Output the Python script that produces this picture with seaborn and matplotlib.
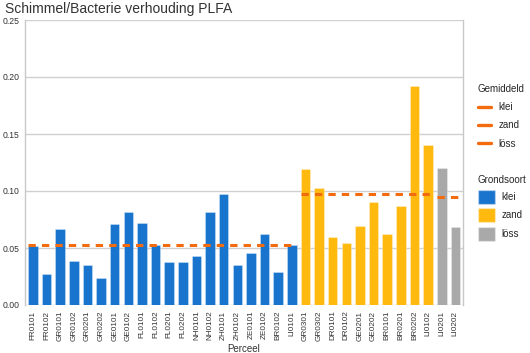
import matplotlib
matplotlib.use("Agg")
import matplotlib.pyplot as plt
from matplotlib.lines import Line2D
from matplotlib.patches import Patch
import seaborn as sns
import pandas as pd

# ---- data ----
percelen = ["FR0101", "FR0102", "GR0101", "GR0102", "GR0201", "GR0202", "GE0101", "GE0102",
            "FL0101", "FL0102", "FL0201", "FL0202", "NH0101", "NH0102", "ZH0101", "ZH0102",
            "ZE0101", "ZE0102", "BR0102", "LI0101",
            "GR0301", "GR0302", "DR0101", "DR0102", "GE0201", "GE0202", "BR0101", "BR0201",
            "BR0202", "LI0102",
            "LI0201", "LI0202"]
waarden = [0.052, 0.027, 0.067, 0.039, 0.035, 0.024, 0.071, 0.082,
           0.072, 0.053, 0.038, 0.038, 0.043, 0.082, 0.097, 0.035,
           0.046, 0.062, 0.029, 0.053,
           0.119, 0.103, 0.060, 0.054, 0.069, 0.090, 0.062, 0.087,
           0.192, 0.140,
           0.1205, 0.068]
grondsoort = ["klei"] * 20 + ["zand"] * 10 + ["löss"] * 2
soorten = ["klei", "zand", "löss"]
gemiddeld = [0.053, 0.097, 0.095]

kleuren = {"klei": "#1874CD", "zand": "#FFB90F", "löss": "#A9A9A9"}
oranje = "#F26B0F"

df = pd.DataFrame({"Perceel": percelen, "waarde": waarden, "Grondsoort": grondsoort})

sns.set_theme(style="white")
plt.rcParams["font.family"] = ["Liberation Sans", "DejaVu Sans"]

fig = plt.figure(figsize=(5.30, 3.53), dpi=100)
ax = fig.add_axes([25 / 530, 1 - 305 / 353, (463 - 25) / 530, (305 - 20) / 353])

sns.barplot(data=df, x="Perceel", y="waarde", hue="Grondsoort", palette=kleuren,
            hue_order=soorten, dodge=False, width=0.7, ax=ax, legend=False,
            saturation=1, edgecolor=(1, 1, 1, 0.35), linewidth=0.6, zorder=2)

# mean lines per soil type
half = 0.35
for s, m in zip(soorten, gemiddeld):
    idx = [i for i, g in enumerate(grondsoort) if g == s]
    ax.hlines(m, min(idx) - half, max(idx) + half, colors=oranje, linewidth=2.2,
              linestyles=(0, (2.4, 2.0)), zorder=3)

ax.set_xlim(-0.58, len(percelen) - 1 + 0.56)
ax.set_ylim(0, 0.25)
ax.set_yticks([0, 0.05, 0.10, 0.15, 0.20, 0.25])
ax.set_yticklabels(["0.00", "0.05", "0.10", "0.15", "0.20", "0.25"])
ax.grid(axis="y", color="#D0D0D0", linewidth=1.0, zorder=0)
ax.set_axisbelow(True)
for sp in ["left", "right"]:
    ax.spines[sp].set_color("#C8C8C8")
    ax.spines[sp].set_linewidth(1.0)
for sp in ["top", "bottom"]:
    ax.spines[sp].set_visible(False)

ax.tick_params(axis="y", labelsize=6.2, length=2, color="#C8C8C8", pad=2, labelcolor="#333333")
ax.tick_params(axis="x", labelsize=5.9, length=0, pad=4, rotation=90, labelcolor="#333333")
ax.set_ylabel("")
ax.set_xlabel("Perceel", fontsize=7, color="#333333", labelpad=2)

fig.text(5 / 530, 1 - 9 / 353, "Schimmel/Bacterie verhouding PLFA", fontsize=10,
         color="#333333", va="center", ha="left")

# legends
h1 = [Line2D([0], [0], color=oranje, linewidth=2.4) for _ in soorten]
leg1 = ax.legend(h1, soorten, title="Gemiddeld", loc="upper left",
                 bbox_to_anchor=(474 / 530, 1 - 80 / 353), bbox_transform=fig.transFigure,
                 frameon=False, fontsize=7, title_fontsize=7, handlelength=1.35,
                 labelspacing=0.85, alignment="left", borderaxespad=0, handletextpad=0.8)
ax.add_artist(leg1)
h2 = [Patch(facecolor=kleuren[s], edgecolor=(1, 1, 1, 0.35)) for s in soorten]
leg2 = ax.legend(h2, soorten, title="Grondsoort", loc="upper left",
                 bbox_to_anchor=(474 / 530, 1 - 171 / 353), bbox_transform=fig.transFigure,
                 frameon=False, fontsize=7, title_fontsize=7, handlelength=1.8,
                 handleheight=1.8, labelspacing=0.5, alignment="left", borderaxespad=0,
                 handletextpad=0.6)

fig.savefig("out.png", dpi=100)
